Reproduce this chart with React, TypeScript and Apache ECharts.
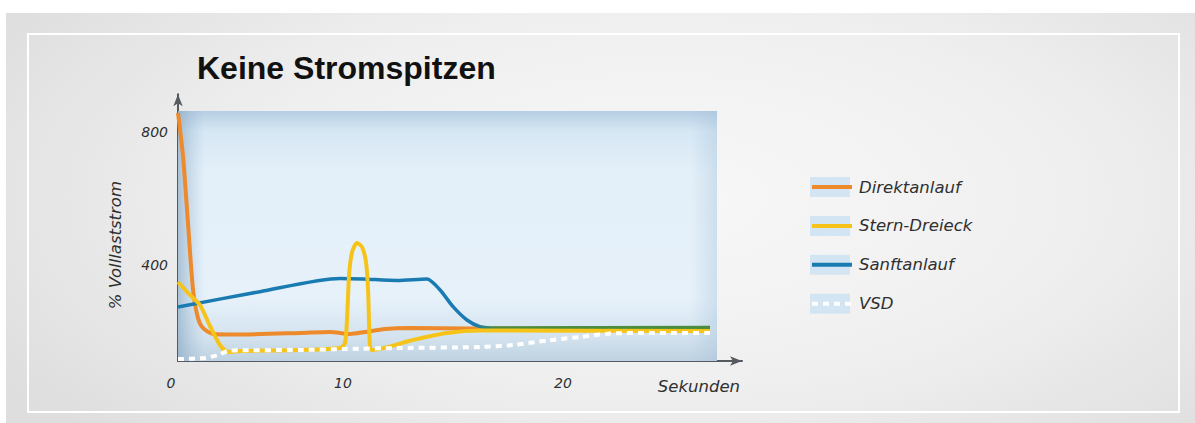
import React, { useEffect, useRef } from 'react';
import * as echarts from 'echarts';

// ---- data (seconds, % full-load current) ----
const seriesNames = ['Direktanlauf', 'Stern-Dreieck', 'Sanftanlauf', 'VSD'];

const direktanlauf: number[][] = [
  [0, 856], [0.27, 724], [0.53, 526], [0.8, 325], [1.06, 241], [1.33, 211], [1.86, 193],
  [2.93, 191.5], [6.49, 196], [8.09, 199], [9.15, 193], [9.95, 199], [11.01, 208],
  [12.34, 211], [15.53, 209.5], [28.3, 211],
];

const sternDreieck: number[][] = [
  [0, 349], [0.64, 310], [1.17, 280], [1.7, 217], [2.23, 160], [2.66, 139], [3.3, 142],
  [6.49, 145], [8.62, 151], [8.88, 166], [8.99, 235], [9.1, 370], [9.26, 439], [9.52, 466],
  [9.79, 454], [10.0, 409], [10.11, 325], [10.21, 154], [10.32, 145], [12.5, 175],
  [14.31, 196], [16.06, 203.5], [28.3, 202],
];

const sanftanlauf: number[][] = [
  [0, 274], [4.36, 320], [8.62, 359.5], [9.84, 358], [11.65, 353.5], [13.24, 358], [13.94, 325],
  [14.63, 275], [15.37, 235], [16.06, 215], [16.97, 211], [28.3, 212.5],
];

const vsd: number[][] = [
  [0, 118], [1.44, 121], [2.13, 130], [2.77, 143.5], [6.49, 145], [8.88, 148], [11.81, 151],
  [16.06, 154], [17.82, 160], [19.63, 173.5], [21.38, 184], [22.98, 194.5], [25.11, 196],
  [28.56, 196],
];

const xTickValues = [0, 10, 20];
const yTickValues = [400, 800];
const plotBox = { x0: 0, x1: 28.67, y0: 112, y1: 862 };

const colors = {
  direkt: '#ec8a2c',
  stern: '#f6c419',
  sanft: '#1a7bb3',
  sanftEnd: '#4a8d3e',
  vsd: '#ffffff',
};

const labelFont = { fontFamily: 'DejaVu Sans', fontStyle: 'italic' as const, color: '#2f2f2f' };

export default function App() {
  const ref = useRef<HTMLDivElement>(null);

  useEffect(() => {
    if (!ref.current) return;
    const chart = echarts.init(ref.current, null, { renderer: 'svg' });

    const legendData = seriesNames.map((n) => ({ name: n }));
    const smooth = 0.25;

    const option: any = {
      animation: false,
      title: {
        text: 'Keine Stromspitzen',
        left: 197,
        top: 52,
        padding: 0,
        textStyle: { fontFamily: 'Liberation Sans', fontWeight: 'bold', fontSize: 32, color: '#111' },
      },
      legend: [
        {
          // light-blue swatches behind the legend lines
          data: legendData,
          orient: 'vertical',
          left: 810,
          top: 177,
          padding: 0,
          itemWidth: 40,
          itemHeight: 20,
          itemGap: 18.9,
          icon: 'rect',
          selectedMode: false,
          itemStyle: { color: '#d3e5f2', opacity: 1 },
          formatter: () => '',
          textStyle: { fontSize: 16.5, lineHeight: 20 },
          z: 3,
        },
        {
          data: seriesNames.map((n) =>
            n === 'Sanftanlauf' ? { name: n, lineStyle: { color: colors.sanft, width: 4 } } : { name: n }
          ),
          orient: 'vertical',
          left: 810,
          top: 177,
          padding: 0,
          itemWidth: 40,
          itemHeight: 20,
          itemGap: 18.9,
          selectedMode: false,
          itemStyle: { opacity: 0 },
          lineStyle: { width: 4 },
          textStyle: { ...labelFont, fontSize: 16.5, lineHeight: 20, padding: [0, 0, 0, 2] },
          z: 4,
        },
      ],
      grid: { left: 178, top: 94.3, right: 1195 - 742, bottom: 423 - 361 },
      xAxis: {
        type: 'value',
        min: 0,
        max: 30,
        interval: 10,
        name: 'Sekunden',
        nameLocation: 'end',
        nameGap: -2,
        nameTextStyle: { ...labelFont, fontSize: 16.5, align: 'right', verticalAlign: 'top', padding: [17, 0, 0, 0] },
        axisLine: {
          show: true,
          symbol: ['none', 'arrow'],
          symbolSize: [7, 12],
          lineStyle: { color: '#555a61', width: 2 },
        },
        axisTick: { show: false },
        splitLine: { show: false },
        axisLabel: {
          margin: 15,
          fontSize: 14,
          ...labelFont,
          formatter: (v: number) => {
            const i = xTickValues.indexOf(v);
            if (i < 0) return '';
            return `{t${i}|${v}}`;
          },
          rich: {
            t0: { ...labelFont, fontSize: 14, padding: [0, 14, 0, 0] },
            t1: { ...labelFont, fontSize: 14, padding: [0, 46, 0, 0] },
            t2: { ...labelFont, fontSize: 14, padding: [0, 0, 0, 18] },
          },
        },
      },
      yAxis: {
        type: 'value',
        min: 112,
        max: 912,
        interval: 16,
        name: '% Volllaststrom',
        nameLocation: 'middle',
        nameRotate: 90,
        nameGap: 54,
        nameTextStyle: { ...labelFont, fontSize: 16.5, padding: [0, 35, 0, 0] },
        axisLine: {
          show: true,
          symbol: ['none', 'arrow'],
          symbolSize: [7, 12],
          lineStyle: { color: '#555a61', width: 2 },
        },
        axisTick: { show: false },
        splitLine: { show: false },
        axisLabel: {
          margin: 10,
          fontSize: 14,
          ...labelFont,
          formatter: (v: number) => (yTickValues.indexOf(v) >= 0 ? String(v) : ''),
        },
      },
      series: [
        {
          name: 'Direktanlauf',
          type: 'line',
          data: direktanlauf,
          symbol: 'none',
          smooth,
          color: colors.direkt,
          lineStyle: { color: colors.direkt, width: 4 },
          z: 2,
          markArea: {
            silent: true,
            label: { show: false },
            data: [
              [
                {
                  xAxis: plotBox.x0,
                  yAxis: plotBox.y0,
                  itemStyle: {
                    color: {
                      type: 'linear', x: 0, y: 0, x2: 0, y2: 1,
                      colorStops: [
                        { offset: 0, color: '#b6cee3' },
                        { offset: 0.08, color: '#d6e7f4' },
                        { offset: 0.25, color: '#e4f0f9' },
                        { offset: 0.75, color: '#e6f1fa' },
                        { offset: 0.9, color: '#d4e3ef' },
                        { offset: 1, color: '#bfd2e1' },
                      ],
                    },
                  },
                },
                { xAxis: plotBox.x1, yAxis: plotBox.y1 },
              ],
              [
                {
                  xAxis: plotBox.x0,
                  yAxis: plotBox.y0,
                  itemStyle: {
                    color: {
                      type: 'linear', x: 0, y: 0, x2: 1, y2: 0,
                      colorStops: [
                        { offset: 0, color: 'rgba(130,162,190,0.6)' },
                        { offset: 0.05, color: 'rgba(160,190,215,0.0)' },
                        { offset: 0.95, color: 'rgba(160,190,215,0.0)' },
                        { offset: 1, color: 'rgba(160,190,215,0.35)' },
                      ],
                    },
                  },
                },
                { xAxis: plotBox.x1, yAxis: plotBox.y1 },
              ],
            ],
          },
        },
        {
          name: 'Sanftanlauf',
          type: 'line',
          data: sanftanlauf,
          symbol: 'none',
          smooth,
          color: colors.sanft,
          lineStyle: {
            width: 3.5,
            color: {
              type: 'linear', x: 0, y: 0, x2: 1, y2: 0,
              colorStops: [
                { offset: 0, color: colors.sanft },
                { offset: 0.555, color: colors.sanft },
                { offset: 0.6, color: colors.sanftEnd },
                { offset: 1, color: colors.sanftEnd },
              ],
            },
          },
          z: 3,
        },
        {
          name: 'Stern-Dreieck',
          type: 'line',
          data: sternDreieck,
          symbol: 'none',
          smooth,
          color: colors.stern,
          lineStyle: { color: colors.stern, width: 4 },
          z: 4,
        },
        {
          name: 'VSD',
          type: 'line',
          data: vsd,
          symbol: 'none',
          smooth,
          color: colors.vsd,
          lineStyle: { color: colors.vsd, width: 4, type: [6, 5] },
          z: 5,
        },
      ],
    };

    chart.setOption(option);
    return () => chart.dispose();
  }, []);

  return (
    <div style={{ position: 'fixed', left: 0, top: 0, width: 1195, height: 423, background: '#fff', overflow: 'hidden' }}>
      <div
        style={{
          position: 'absolute', left: 6, top: 13, width: 1189, height: 410,
          background: 'radial-gradient(ellipse 65% 85% at 55% 45%, #f8f8f8 0%, #efefef 55%, #dedede 100%)',
        }}
      />
      <div
        style={{
          position: 'absolute', left: 27, top: 33, width: 1153, height: 380,
          border: '2px solid #ffffff', boxSizing: 'border-box',
        }}
      />
      <div ref={ref} style={{ position: 'absolute', left: 0, top: 0, width: 1195, height: 423 }} />
    </div>
  );
}
